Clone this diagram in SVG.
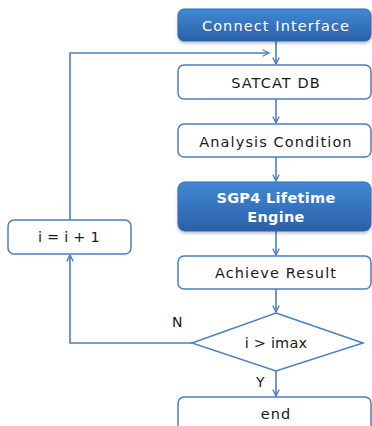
<svg xmlns="http://www.w3.org/2000/svg" width="372" height="426" viewBox="0 0 372 426">
<defs>
<linearGradient id="blue" x1="0" y1="0" x2="0" y2="1">
<stop offset="0" stop-color="#4189d4"/>
<stop offset="1" stop-color="#2b60a8"/>
</linearGradient>
<filter id="sh" x="-10%" y="-10%" width="120%" height="140%">
<feDropShadow dx="0" dy="2" stdDeviation="1.5" flood-color="#000" flood-opacity="0.25"/>
</filter>
<marker id="arr" viewBox="0 0 10 10" refX="9" refY="5" markerWidth="8" markerHeight="8" markerUnits="userSpaceOnUse" orient="auto">
<path d="M1,1 L9,5 L1,9" fill="none" stroke="#4a7fc4" stroke-width="1.6"/>
</marker>
</defs>
<style>
.box{fill:#fff;stroke:#4a7fc4;stroke-width:1.5}
.fill{fill:url(#blue);stroke:#2f68b0;stroke-width:1;filter:url(#sh)}
.t{font-family:"DejaVu Sans","Noto Sans",sans-serif;font-size:14.5px;fill:#1a1a1a;text-anchor:middle;letter-spacing:1.1px}
.w{fill:#fff}
.b{font-weight:600;letter-spacing:0.3px}
.n{letter-spacing:0.2px}
.c{fill:none;stroke:#4a7fc4;stroke-width:1.6}
.lbl{font-family:"DejaVu Sans","Noto Sans",sans-serif;font-size:14px;fill:#1a1a1a}
</style>
<g id="connectors">
<path class="c" d="M276,41 V64" marker-end="url(#arr)"/>
<path class="c" d="M276,99 V123" marker-end="url(#arr)"/>
<path class="c" d="M276,157 V181" marker-end="url(#arr)"/>
<path class="c" d="M276,231 V255" marker-end="url(#arr)"/>
<path class="c" d="M276,289 V312" marker-end="url(#arr)"/>
<path class="c" d="M276,371 V396" marker-end="url(#arr)"/>
<path class="c" d="M192,343 H70 V255" marker-end="url(#arr)"/>
<path class="c" d="M70,220 V53 H269" marker-end="url(#arr)"/>
</g>
<g id="n-connect">
<rect class="fill" x="178" y="9" width="193" height="32" rx="6"/>
<text class="t w" x="276" y="31">Connect Interface</text>
</g>
<g id="n-satcat">
<rect class="box" x="178" y="65" width="193" height="34" rx="6"/>
<text class="t" x="276" y="88">SATCAT DB</text>
</g>
<g id="n-analysis">
<rect class="box" x="178" y="124" width="193" height="33" rx="6"/>
<text class="t" x="276" y="147">Analysis Condition</text>
</g>
<g id="n-sgp4">
<rect class="fill" x="178" y="182" width="193" height="49" rx="7"/>
<text class="t w b" x="276" y="203">SGP4 Lifetime</text>
<text class="t w b" x="276" y="222">Engine</text>
</g>
<g id="n-achieve">
<rect class="box" x="178" y="256" width="193" height="33" rx="6"/>
<text class="t" x="276" y="278">Achieve Result</text>
</g>
<g id="n-decision">
<polygon class="box" points="276,313 363,343 276,371 192,343"/>
<text class="t n" x="276" y="348">i &gt; imax</text>
</g>
<g id="n-end">
<rect class="box" x="178" y="397" width="193" height="40" rx="6"/>
<text class="t" x="276" y="419">end</text>
</g>
<g id="n-incr">
<rect class="box" x="8" y="220" width="123" height="34" rx="6"/>
<text class="t n" x="69" y="242">i = i + 1</text>
</g>
<g id="labels">
<text class="lbl" x="172" y="327">N</text>
<text class="lbl" x="256" y="387">Y</text>
</g>
</svg>
